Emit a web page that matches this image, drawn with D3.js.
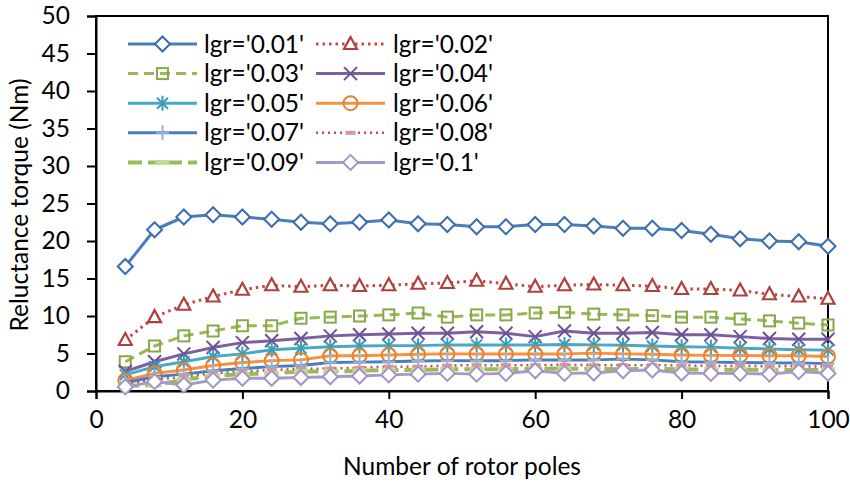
<!DOCTYPE html>
<html>
<head>
<meta charset="utf-8">
<script src="https://cdn.jsdelivr.net/npm/d3@7"></script>
<style>
  html, body { margin: 0; padding: 0; background: #fff; }
  svg { display: block; }
  text { font-family: Lato, "Open Sans", sans-serif; fill: #000; }
</style>
</head>
<body>
<svg id="chart" width="850" height="483"></svg>
<script>
// ---------- data ----------
const poles = [4,8,12,16,20,24,28,32,36,40,44,48,52,56,60,64,68,72,76,80,84,88,92,96,100];
const seriesNames = ["lgr='0.01'","lgr='0.02'","lgr='0.03'","lgr='0.04'","lgr='0.05'","lgr='0.06'","lgr='0.07'","lgr='0.08'","lgr='0.09'","lgr='0.1'"];
const lgr001 = [16.6,21.5,23.2,23.5,23.2,22.9,22.5,22.3,22.5,22.8,22.3,22.2,21.9,21.9,22.2,22.2,22.0,21.7,21.7,21.4,20.9,20.3,20.0,19.9,19.3];
const lgr002 = [6.8,9.85,11.5,12.6,13.5,14.1,13.9,14.1,14.0,14.1,14.3,14.4,14.7,14.3,13.9,14.1,14.2,14.1,14.0,13.6,13.6,13.4,12.9,12.6,12.3];
const lgr003 = [3.9,6.0,7.35,8.0,8.7,8.7,9.7,9.85,10.0,10.15,10.4,9.85,10.15,10.15,10.4,10.5,10.25,10.15,10.05,9.85,9.85,9.6,9.35,9.05,8.8];
const lgr004 = [2.6,3.9,4.95,5.8,6.45,6.7,7.0,7.35,7.5,7.6,7.7,7.7,7.9,7.7,7.25,8.0,7.7,7.7,7.8,7.5,7.5,7.25,7.0,6.9,6.9];
const lgr005 = [2.15,3.25,3.9,4.6,4.95,5.5,5.7,5.9,6.0,6.05,6.05,6.15,6.15,6.15,6.15,6.2,6.15,6.1,6.0,5.9,5.85,5.7,5.6,5.5,5.45];
const lgr006 = [1.4,2.35,2.8,3.4,3.8,4.05,4.15,4.7,4.7,4.8,4.9,4.95,4.95,4.95,4.95,4.95,5.05,4.95,4.9,4.8,4.75,4.75,4.7,4.7,4.6];
const lgr007 = [1.1,1.9,2.25,2.7,3.0,3.25,3.4,3.8,3.85,3.9,4.0,4.05,4.05,4.05,4.15,4.15,4.15,4.25,4.15,3.9,3.85,3.8,3.75,3.75,3.65];
const lgr008 = [0.95,1.5,1.9,2.35,2.6,2.8,2.95,3.0,3.1,3.25,3.25,3.4,3.45,3.45,3.45,3.5,3.45,3.45,3.45,3.4,3.35,3.35,3.3,3.3,3.25];
const lgr009 = [0.65,0.8,1.5,2.0,2.25,2.35,2.6,2.6,2.7,2.8,2.8,2.9,2.9,2.9,2.95,3.0,2.95,2.9,2.95,2.9,2.85,2.85,2.8,2.8,2.8];
const lgr010 = [0.55,1.25,0.8,1.45,1.7,1.7,1.8,1.9,2.0,2.15,2.25,2.35,2.25,2.35,2.7,2.35,2.4,2.7,2.8,2.4,2.35,2.35,2.25,2.6,2.35];
const xTicks = [0,20,40,60,80,100];
const yTicks = [0,5,10,15,20,25,30,35,40,45,50];
const xTitle = "Number of rotor poles";
const yTitle = "Reluctance torque (Nm)";

// ---------- styles ----------
const values = [lgr001,lgr002,lgr003,lgr004,lgr005,lgr006,lgr007,lgr008,lgr009,lgr010];
const styles = [
  {line:"#4A7EBB", w:3,   dash:null,     marker:"diamond",  mc:"#3C6DAE", fill:"#fff"},
  {line:"#BE4B48", w:3,   dash:"2.5,4",  marker:"triangle", mc:"#B0403D", fill:"#fff"},
  {line:"#98B954", w:3,   dash:"10,6",   marker:"square",   mc:"#86A84A", fill:"none"},
  {line:"#7D60A0", w:3,   dash:null,     marker:"x",        mc:"#6E5194", fill:"none"},
  {line:"#46AAC5", w:3,   dash:null,     marker:"star",     mc:"#3A9CB6", fill:"none"},
  {line:"#F69240", w:3,   dash:null,     marker:"circle",   mc:"#E6812F", fill:"none"},
  {line:"#4A7EBB", w:3,   dash:null,     marker:"plus",     mc:"#95B3D7", fill:"none"},
  {line:"#C0504D", w:2.5, dash:"2,4",    marker:"dash8",    mc:"#D99795", fill:"none"},
  {line:"#9BBB59", w:4,   dash:"14,6",   marker:"dash9",    mc:"#C3D69B", fill:"none"},
  {line:"#A898C8", w:3,   dash:null,     marker:"diamond",  mc:"#A593C5", fill:"#fff"}
];

const svg = d3.select("#chart");
const L = 96, R = 828, T = 16, B = 391;
const x = d3.scaleLinear().domain([0,100]).range([L,R]);
const y = d3.scaleLinear().domain([0,50]).range([B,T]);
const FS = 24.5;

// frame
svg.append("rect").attr("x",L).attr("y",T).attr("width",R-L).attr("height",B-T)
  .attr("fill","none").attr("stroke","#000").attr("stroke-width",2);

// axes
const yAxis = svg.append("g").attr("transform",`translate(${L},0)`)
  .call(d3.axisLeft(y).tickValues(yTicks).tickSize(9).tickPadding(17).tickFormat(d3.format("d")));
const xAxis = svg.append("g").attr("transform",`translate(0,${B})`)
  .call(d3.axisBottom(x).tickValues(xTicks).tickSize(8).tickPadding(12).tickFormat(d3.format("d")));
[yAxis,xAxis].forEach(g=>{
  g.select(".domain").attr("stroke","#000").attr("stroke-width",2);
  g.selectAll(".tick line").attr("stroke","#000").attr("stroke-width",2);
  g.selectAll(".tick text").attr("font-size",FS).attr("font-family","Lato").attr("fill","#000");
});

// titles
svg.append("text").attr("x",462).attr("y",475).attr("text-anchor","middle")
  .attr("font-size",FS).text(xTitle);
svg.append("text").attr("transform","translate(28,205) rotate(-90)").attr("text-anchor","middle")
  .attr("font-size",FS).text(yTitle);

// marker drawing
function drawMarker(g, type, cx, cy, st){
  const s = st.mc;
  switch(type){
    case "diamond":
      g.append("path").attr("d",`M${cx},${cy-7.5}L${cx+7.5},${cy}L${cx},${cy+7.5}L${cx-7.5},${cy}Z`)
        .attr("fill",st.fill).attr("stroke",s).attr("stroke-width",2); break;
    case "triangle":
      g.append("path").attr("d",`M${cx},${cy-7}L${cx+6.5},${cy+5}L${cx-6.5},${cy+5}Z`)
        .attr("fill",st.fill).attr("stroke",s).attr("stroke-width",2.2); break;
    case "square":
      g.append("rect").attr("x",cx-5.5).attr("y",cy-5.5).attr("width",11).attr("height",11)
        .attr("fill","none").attr("stroke",s).attr("stroke-width",2); break;
    case "x":
      g.append("path").attr("d",`M${cx-6.5},${cy-6.5}L${cx+6.5},${cy+6.5}M${cx-6.5},${cy+6.5}L${cx+6.5},${cy-6.5}`)
        .attr("stroke",s).attr("stroke-width",2).attr("fill","none"); break;
    case "star":
      g.append("path").attr("d",`M${cx-5.5},${cy-5.5}L${cx+5.5},${cy+5.5}M${cx-5.5},${cy+5.5}L${cx+5.5},${cy-5.5}M${cx},${cy-7.5}L${cx},${cy+7.5}`)
        .attr("stroke",s).attr("stroke-width",2).attr("fill","none"); break;
    case "circle":
      g.append("circle").attr("cx",cx).attr("cy",cy).attr("r",7)
        .attr("fill","none").attr("stroke",s).attr("stroke-width",2); break;
    case "plus":
      g.append("path").attr("d",`M${cx-6.5},${cy}L${cx+6.5},${cy}M${cx},${cy-7.5}L${cx},${cy+7.5}`)
        .attr("stroke",s).attr("stroke-width",2).attr("fill","none"); break;
    case "dash8":
      g.append("rect").attr("x",cx-5).attr("y",cy-2).attr("width",10).attr("height",4).attr("fill",s); break;
    case "dash9":
      g.append("rect").attr("x",cx-7).attr("y",cy-2.5).attr("width",14).attr("height",5).attr("fill",s); break;
  }
}

// series
const line = d3.line().x(d=>x(d[0])).y(d=>y(d[1]));
values.forEach((vals,i)=>{
  const st = styles[i];
  const g = svg.append("g");
  const pts = poles.map((p,j)=>[p,vals[j]]);
  g.append("path").attr("d",line(pts)).attr("fill","none").attr("stroke",st.line)
    .attr("stroke-width",st.w).attr("stroke-dasharray",st.dash).attr("stroke-linejoin","round");
  pts.forEach(p=>drawMarker(g, st.marker, x(p[0]), y(p[1]), st));
});

// legend
const legCols = [{x0:128, x1:197, tx:204},{x0:316, x1:385, tx:393}];
const legRowY = [44, 73.6, 103.2, 132.8, 162.4];
seriesNames.forEach((name,i)=>{
  const col = legCols[i%2], ry = legRowY[Math.floor(i/2)];
  const st = styles[i];
  const g = svg.append("g");
  g.append("line").attr("x1",col.x0).attr("x2",col.x1).attr("y1",ry).attr("y2",ry)
    .attr("stroke",st.line).attr("stroke-width",st.w).attr("stroke-dasharray",st.dash);
  drawMarker(g, st.marker, (col.x0+col.x1)/2, ry, st);
  g.append("text").attr("x",col.tx).attr("y",ry).attr("dy","0.35em").attr("font-size",FS).text(name);
});
</script>
</body>
</html>
